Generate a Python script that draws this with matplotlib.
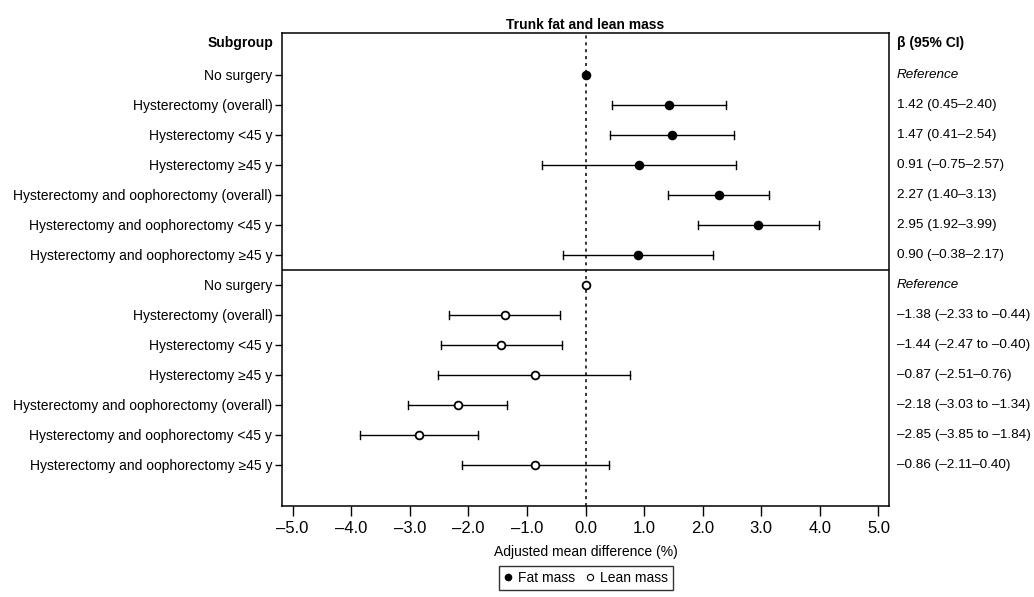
import matplotlib
matplotlib.use("Agg")
import matplotlib.pyplot as plt
from matplotlib.lines import Line2D

plt.rcParams['font.family'] = ['Liberation Sans', 'DejaVu Sans']

subgroups = ["No surgery", "Hysterectomy (overall)", "Hysterectomy <45 y", "Hysterectomy \u226545 y",
             "Hysterectomy and oophorectomy (overall)", "Hysterectomy and oophorectomy <45 y",
             "Hysterectomy and oophorectomy \u226545 y"]

fat_est = [0.0, 1.42, 1.47, 0.91, 2.27, 2.95, 0.90]
fat_lo = [None, 0.45, 0.41, -0.75, 1.40, 1.92, -0.38]
fat_hi = [None, 2.40, 2.54, 2.57, 3.13, 3.99, 2.17]
fat_txt = ["Reference", "1.42 (0.45\u20132.40)", "1.47 (0.41\u20132.54)", "0.91 (\u20130.75\u20132.57)",
           "2.27 (1.40\u20133.13)", "2.95 (1.92\u20133.99)", "0.90 (\u20130.38\u20132.17)"]

lean_est = [0.0, -1.38, -1.44, -0.87, -2.18, -2.85, -0.86]
lean_lo = [None, -2.33, -2.47, -2.51, -3.03, -3.85, -2.11]
lean_hi = [None, -0.44, -0.40, 0.76, -1.34, -1.84, 0.40]
lean_txt = ["Reference", "\u20131.38 (\u20132.33 to \u20130.44)", "\u20131.44 (\u20132.47 to \u20130.40)",
            "\u20130.87 (\u20132.51\u20130.76)", "\u20132.18 (\u20133.03 to \u20131.34)",
            "\u20132.85 (\u20133.85 to \u20131.84)", "\u20130.86 (\u20132.11\u20130.40)"]

xticks = [-5, -4, -3, -2, -1, 0, 1, 2, 3, 4, 5]
xticklabels = ["\u20135.0", "\u20134.0", "\u20133.0", "\u20132.0", "\u20131.0", "0.0", "1.0", "2.0", "3.0", "4.0", "5.0"]

W, H = 1034, 597
fig = plt.figure(figsize=(W / 100, H / 100), dpi=100)
L, R, T, B = 282, 889, 33, 506
ax = fig.add_axes([L / W, 1 - B / H, (R - L) / W, (B - T) / H])

n = len(subgroups)
ypos_fat = list(range(n))
ypos_lean = [i + n for i in range(n)]

def draw(est, lo, hi, ys, filled):
    for e, l, h, y in zip(est, lo, hi, ys):
        if l is not None:
            ax.plot([l, h], [y, y], color='black', lw=1.0, zorder=2)
            for v in (l, h):
                ax.plot([v, v], [y - 0.12, y + 0.12], color='black', lw=1.0, zorder=2)
        ax.plot(e, y, marker='o', markersize=5.6,
                markerfacecolor='black' if filled else 'white', markeredgecolor='black',
                markeredgewidth=1.3, zorder=3, linestyle='none')

draw(fat_est, fat_lo, fat_hi, ypos_fat, True)
draw(lean_est, lean_lo, lean_hi, ypos_lean, False)

ax.axvline(0, color='black', lw=1.1, linestyle=(0, (2, 2.5)), zorder=1)
ax.axhline(n - 0.5, color='black', lw=1.1, zorder=1)

ax.set_xlim(-5.18, 5.18)
ax.set_ylim(2 * n - 1 + 1.37, -1.4)
ax.set_xticks(xticks)
ax.set_xticklabels(xticklabels, fontsize=12)
ax.set_yticks(ypos_fat + ypos_lean)
ax.set_yticklabels(subgroups + subgroups, fontsize=10)
ax.tick_params(axis='x', length=7, width=1, pad=4)
ax.tick_params(axis='y', length=5, width=1, pad=2)
for s in ax.spines.values():
    s.set_linewidth(1.1)

ax.set_xlabel("Adjusted mean difference (%)", fontsize=10, labelpad=6)

for y, t in zip(ypos_fat + ypos_lean, fat_txt + lean_txt):
    ax.text(1.013, y, t, transform=ax.get_yaxis_transform(), ha='left', va='center', fontsize=9.7,
            style='italic' if t == "Reference" else 'normal')

ax.text(1.013, -1.07, "\u03b2 (95% CI)", transform=ax.get_yaxis_transform(), ha='left', va='center',
        fontsize=10, fontweight='bold')
ax.text(-0.015, -1.07, "Subgroup", transform=ax.get_yaxis_transform(), ha='right', va='center',
        fontsize=10, fontweight='bold')
ax.set_title("Trunk fat and lean mass", fontsize=10, fontweight='bold', pad=3)

handles = [Line2D([], [], marker='o', color='black', markerfacecolor='black', markersize=4.5, linestyle='none'),
           Line2D([], [], marker='o', color='black', markerfacecolor='white', markersize=4.5, linestyle='none', markeredgewidth=0.8)]
fig.legend(handles, ["Fat mass", "Lean mass"], loc='center', bbox_to_anchor=(586 / W, 1 - 578 / H),
           ncol=2, frameon=True, fontsize=10, handlelength=0.6, handletextpad=0.4, columnspacing=0.8,
           borderpad=0.35, fancybox=False, edgecolor='black')

fig.savefig("out.png", dpi=100)
